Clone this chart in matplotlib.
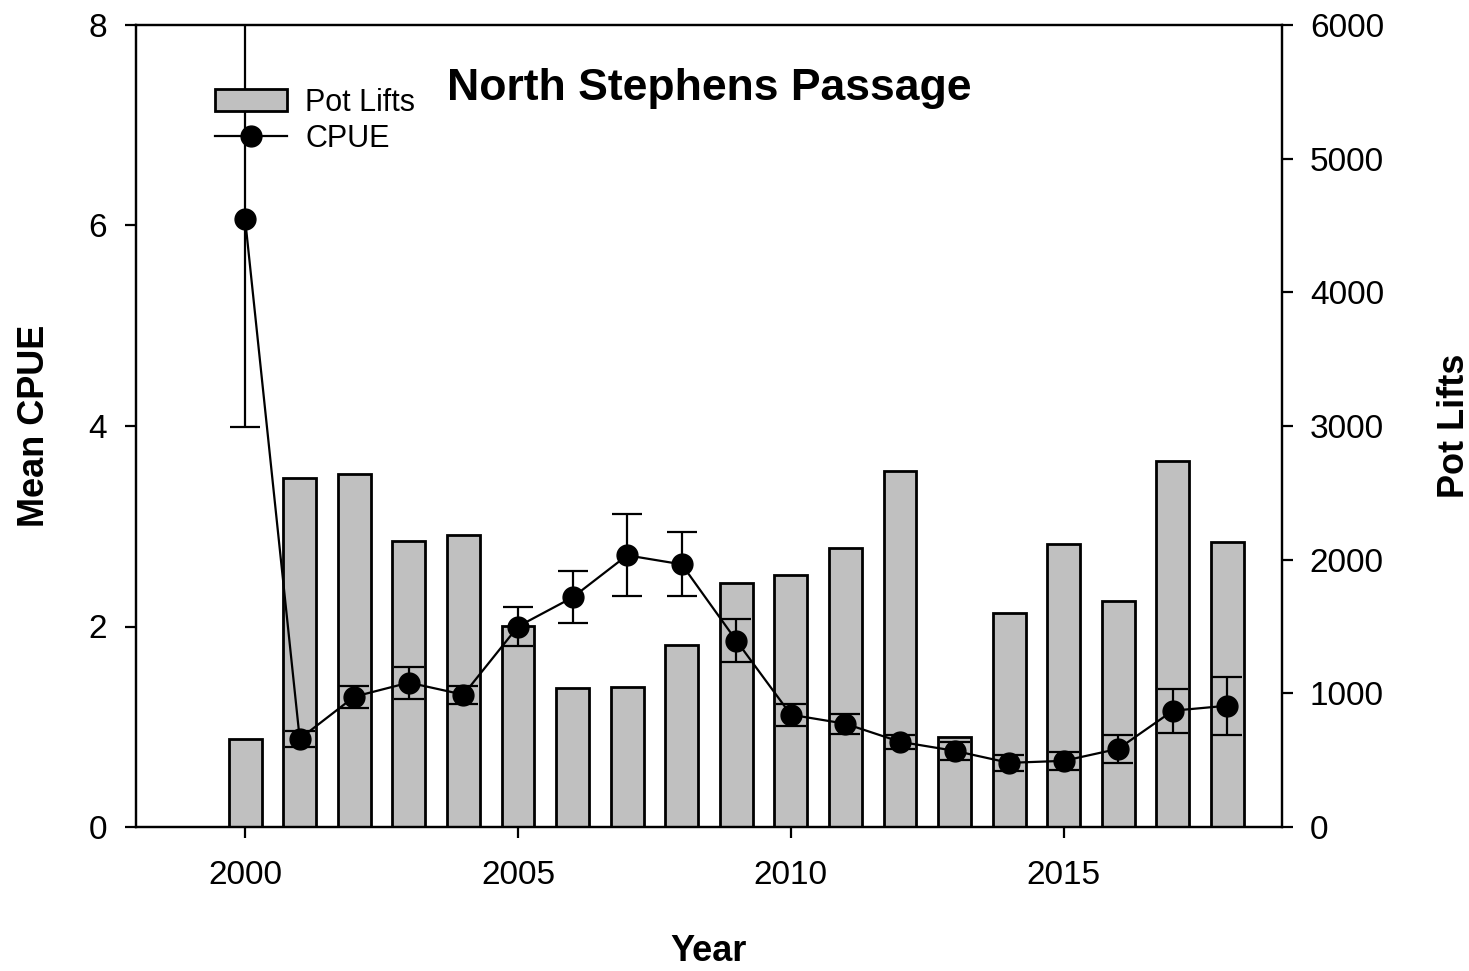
import matplotlib
matplotlib.use("Agg")
import matplotlib.pyplot as plt
from matplotlib.lines import Line2D
from matplotlib.patches import Patch

plt.rcParams['font.family'] = ['Liberation Sans', 'DejaVu Sans']

# ---- data ----
years = [2000, 2001, 2002, 2003, 2004, 2005, 2006, 2007, 2008, 2009,
         2010, 2011, 2012, 2013, 2014, 2015, 2016, 2017, 2018]
pot_lifts = [658, 2611, 2641, 2140, 2185, 1504, 1040, 1047, 1362, 1825,
             1885, 2087, 2663, 673, 1601, 2117, 1691, 2738, 2132]
cpue = [6.06, 0.88, 1.30, 1.44, 1.32, 2.00, 2.29, 2.71, 2.62, 1.86,
        1.12, 1.03, 0.85, 0.76, 0.64, 0.66, 0.78, 1.16, 1.21]
cpue_err = [2.07, 0.08, 0.11, 0.16, 0.09, 0.19, 0.26, 0.41, 0.32, 0.21,
            0.11, 0.10, 0.07, 0.09, 0.08, 0.09, 0.14, 0.22, 0.29]

fig = plt.figure(figsize=(14.69, 9.71), dpi=100)
ax = fig.add_axes([136/1469, 1-827/971, 1146/1469, 802/971])
ax2 = ax.twinx()

# bars on the right axis, drawn below the CPUE line
ax2.bar(years, pot_lifts, width=0.6, color='#c0c0c0', edgecolor='black', linewidth=2)
ax.set_zorder(ax2.get_zorder() + 1)
ax.patch.set_visible(False)

ax.errorbar(years, cpue, yerr=cpue_err, color='black', marker='o', markersize=15,
            linewidth=1.6, elinewidth=1.6, capsize=11, capthick=1.6)

ax.set_xlim(1998, 2019)
ax.set_ylim(0, 8)
ax2.set_ylim(0, 6000)
ax.set_xticks([2000, 2005, 2010, 2015])
ax.set_yticks([0, 2, 4, 6, 8])
ax2.set_yticks([0, 1000, 2000, 3000, 4000, 5000, 6000])

for a in (ax, ax2):
    for s in a.spines.values():
        s.set_linewidth(1.6)
ax.tick_params(axis='x', direction='out', length=8, width=1.6, labelsize=24, pad=16)
ax.tick_params(axis='y', direction='out', length=8, width=1.6, labelsize=24, pad=13)
ax2.tick_params(axis='y', direction='out', length=8, width=1.6, labelsize=24, pad=12)

ax.set_xlabel("Year", fontsize=26, fontweight='bold', labelpad=31)
ax.set_ylabel("Mean CPUE", fontsize=26, fontweight='bold', labelpad=26)
ax2.set_ylabel("Pot Lifts", fontsize=26, fontweight='bold', labelpad=38)

ax.text(0.5, 0.921, "North Stephens Passage", transform=ax.transAxes,
        ha='center', va='center', fontsize=32, fontweight='bold')

handles = [Patch(facecolor='#c0c0c0', edgecolor='black', linewidth=2),
           Line2D([], [], color='black', marker='o', markersize=15, linewidth=1.6)]
ax.legend(handles, ["Pot Lifts", "CPUE"], loc='upper left',
          bbox_to_anchor=(0.069, 0.922), frameon=False, fontsize=22,
          borderpad=0, borderaxespad=0, handlelength=2.35, handleheight=0.75,
          handletextpad=0.6, labelspacing=0.2)

fig.savefig("out.png", dpi=100)
